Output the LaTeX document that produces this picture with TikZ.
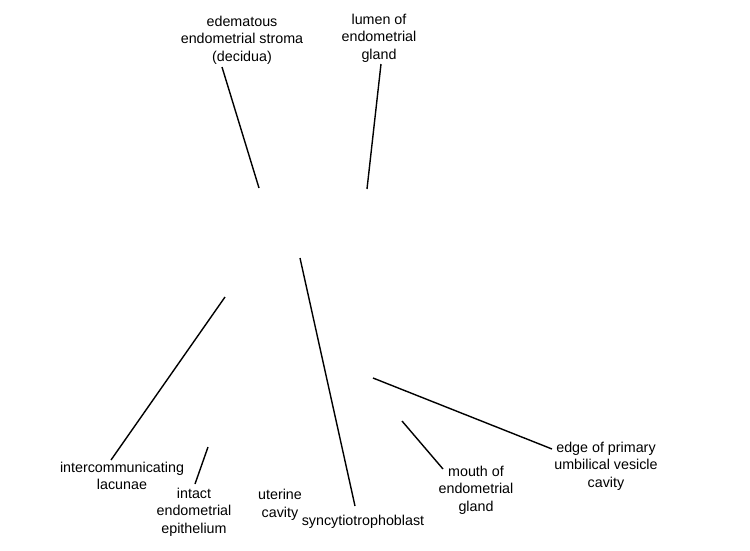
\documentclass[tikz,border=0pt]{standalone}
\usepackage{fontspec}
\setmainfont{Liberation Sans}
\begin{document}
\begin{tikzpicture}[x=1pt,y=-1pt,
  lbl/.style={align=center,inner sep=0pt,font=\fontsize{14.3}{17.5}\selectfont},
  lead/.style={line width=1.4pt,black}]
\useasboundingbox (0,0) rectangle (750,550);
% labels
\node[lbl] (stroma) at (242,40) {edematous\\endometrial stroma\\(decidua)};
\node[lbl] (lumen) at (379,38) {lumen of\\endometrial\\gland};
\node[lbl] (lacunae) at (122,476) {intercommunicating\\lacunae};
\node[lbl] (epith) at (194,512) {intact\\endometrial\\epithelium};
\node[lbl] (cavity) at (280,505) {uterine\\cavity};
\node[lbl] (syncy) at (363,522) {syncytiotrophoblast};
\node[lbl] (mouth) at (476,490) {mouth of\\endometrial\\gland};
\node[lbl] (edge) at (606,466) {edge of primary\\umbilical vesicle\\cavity};
% pointer ends
\coordinate (stromaA) at (222,67);  \coordinate (stromaB) at (259,188);
\coordinate (lumenA) at (381,64);   \coordinate (lumenB) at (367,189);
\coordinate (lacA) at (111,460);    \coordinate (lacB) at (225,297);
\coordinate (epA) at (195,484);     \coordinate (epB) at (208,447);
\coordinate (syA) at (355,506);     \coordinate (syB) at (300,258);
\coordinate (moA) at (443,469);     \coordinate (moB) at (402,421);
\coordinate (edA) at (552,449);     \coordinate (edB) at (373,378);
% leaders
\draw[lead] (stromaA) -- (stromaB);
\draw[lead] (lumenA) -- (lumenB);
\draw[lead] (lacA) -- (lacB);
\draw[lead] (epA) -- (epB);
\draw[lead] (syA) -- (syB);
\draw[lead] (moA) -- (moB);
\draw[lead] (edA) -- (edB);
\end{tikzpicture}
\end{document}
